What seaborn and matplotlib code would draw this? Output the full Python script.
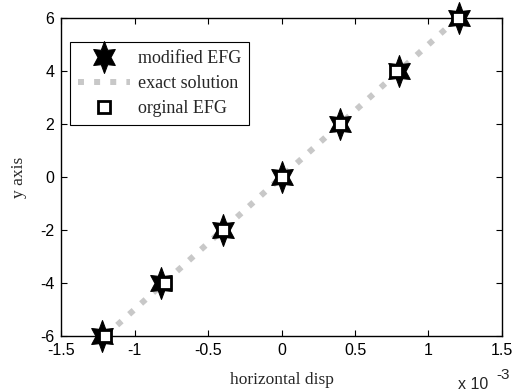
import numpy as np
import matplotlib
matplotlib.use("Agg")
import matplotlib.pyplot as plt
import seaborn as sns
import pandas as pd
from matplotlib.path import Path
from matplotlib.ticker import FuncFormatter

# ---- data ----
mod_x = [-1.22e-3, -0.82e-3, -0.40e-3, 0.0, 0.40e-3, 0.80e-3, 1.21e-3]
mod_y = [-6, -4, -2, 0, 2, 4, 6]
exact_x = [-1.2e-3, -0.8e-3, -0.4e-3, 0.0, 0.4e-3, 0.8e-3, 1.2e-3]
exact_y = [-6, -4, -2, 0, 2, 4, 6]
orig_x = [-1.2e-3, -0.79e-3, -0.4e-3, 0.0, 0.4e-3, 0.78e-3, 1.2e-3]
orig_y = [-6, -4, -2, 0, 2, 4, 6]
xticks = [-1.5e-3, -1e-3, -0.5e-3, 0, 0.5e-3, 1e-3, 1.5e-3]
yticks = [-6, -4, -2, 0, 2, 4, 6]

sns.set_theme(style="ticks")
plt.rcParams['font.family'] = ['Liberation Sans', 'DejaVu Sans']
plt.rcParams['axes.unicode_minus'] = False

# hexagram marker (slightly narrow, like the reference)
ang_out = np.deg2rad(90 + np.arange(6) * 60)
ang_in = ang_out + np.deg2rad(30)
r_in = 0.52
verts = []
for ao, ai in zip(ang_out, ang_in):
    verts.append((0.78 * np.cos(ao), np.sin(ao)))
    verts.append((0.78 * r_in * np.cos(ai), r_in * np.sin(ai)))
verts.append(verts[0])
codes = [Path.MOVETO] + [Path.LINETO] * (len(verts) - 2) + [Path.CLOSEPOLY]
hexagram = Path(verts, codes)

fig = plt.figure(figsize=(5.18, 3.91), dpi=100)
ax = fig.add_axes([0.118, 0.141, 0.851, 0.813])

df_mod = pd.DataFrame({"x": mod_x, "y": mod_y})
df_ex = pd.DataFrame({"x": exact_x, "y": exact_y})
df_or = pd.DataFrame({"x": orig_x, "y": orig_y})

sns.lineplot(data=df_mod, x="x", y="y", ax=ax, marker=hexagram, linestyle="none",
             markersize=23, color="black", markeredgecolor="black",
             label="modified EFG", zorder=3, clip_on=False)
sns.lineplot(data=df_ex, x="x", y="y", ax=ax, color="#c8c8c8", linewidth=4.3,
             dashes=False, label="exact solution", zorder=2)
ax.lines[-1].set_dashes([1.0, 1.7])
sns.lineplot(data=df_or, x="x", y="y", ax=ax, marker="s", linestyle="none",
             markersize=8, markerfacecolor="white", markeredgecolor="black",
             markeredgewidth=2, color="black", label="orginal EFG", zorder=4,
             clip_on=False)

ax.set_xlim(-1.5e-3, 1.5e-3)
ax.set_ylim(-6, 6)
ax.set_xticks(xticks)
ax.set_yticks(yticks)
ax.xaxis.set_major_formatter(FuncFormatter(lambda v, p: f"{v*1e3:g}"))
ax.tick_params(direction="in", length=4, width=0.8, top=True, right=True,
               labelsize=11.5, colors="black")
ax.tick_params(axis="x", pad=5)
ax.tick_params(axis="y", pad=5)
for s in ax.spines.values():
    s.set_visible(True)
    s.set_color("black")
    s.set_linewidth(1.0)

ax.set_xlabel("horizontal disp", family="Liberation Serif", fontsize=12.5, labelpad=10)
ax.set_ylabel("y axis", family="Liberation Serif", fontsize=12.5, labelpad=9)
fig.text(0.884, 0.004, "x 10", fontsize=11.5, ha="left", va="baseline")
fig.text(0.958, 0.03, "-3", fontsize=11, ha="left", va="baseline")

leg = ax.legend(loc="upper left", bbox_to_anchor=(0.02, 0.925), borderaxespad=0,
                frameon=True, fancybox=False, edgecolor="black",
                prop={"family": "Liberation Serif", "size": 13},
                handlelength=2.9, labelspacing=0.45, borderpad=0.45,
                handletextpad=0.4, markerscale=1.0)
leg.get_frame().set_linewidth(0.8)
leg.get_frame().set_alpha(1)

fig.savefig("out.png", dpi=100)
